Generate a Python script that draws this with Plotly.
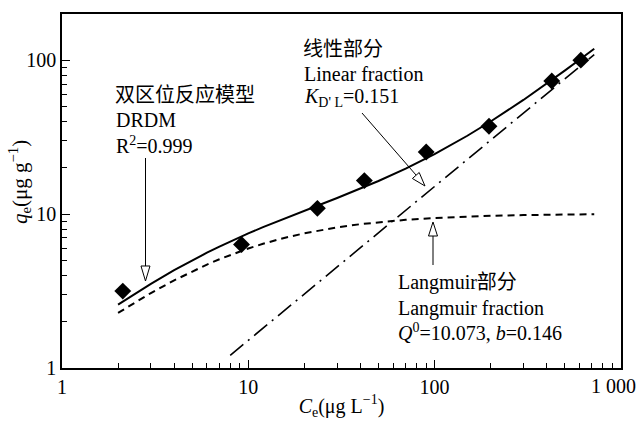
import plotly.graph_objects as go

# Observed data (Ce, qe)
ce_obs = [2.12, 9.2, 23.5, 42.0, 90.2, 196.0, 426.0, 610.0]
qe_obs = [3.16, 6.35, 10.9, 16.5, 25.3, 37.2, 73.3, 100.0]

# Curves
ce_curve = [2, 2.5, 3, 4, 5, 6, 7, 8, 10, 12, 15, 20, 25, 30, 40, 50, 70, 100,
            150, 200, 300, 400, 500, 600, 720]
q_drdm = [2.58, 3.07, 3.52, 4.32, 5.01, 5.61, 6.15, 6.64, 7.49, 8.23, 9.18, 10.52,
          11.68, 12.73, 14.64, 16.41, 19.75, 24.53, 32.28, 39.94, 55.15, 70.30,
          85.44, 100.56, 118.70]
q_langmuir = [2.28, 2.69, 3.07, 3.71, 4.25, 4.70, 5.09, 5.43, 5.98, 6.41, 6.92, 7.50,
              7.91, 8.20, 8.60, 8.86, 9.18, 9.43, 9.63, 9.74, 9.85, 9.90, 9.94, 9.96, 9.98]
ce_linear = [8, 720]
q_linear = [1.21, 108.7]

x_tickvals = [1, 10, 100, 1000]
x_ticktext = ["1", "10", "100", ""]
last_x_label = "1 000"
x_minor = [2, 3, 4, 5, 6, 7, 8, 9, 20, 30, 40, 50, 60, 70, 80, 90,
           200, 300, 400, 500, 600, 700, 800, 900]
y_tickvals = [1, 10, 100]
y_ticktext = ["1", "10", "100"]
y_minor = [2, 3, 4, 5, 6, 7, 8, 9, 20, 30, 40, 50, 60, 70, 80, 90]

X_RANGE = [0, 3.001]
Y_RANGE = [0, 2.3]

W, H = 637, 423
L, R, T, B = 62, 16, 14, 55
PW, PH = W - L - R, H - T - B

def px(x):
    return (x - L) / PW

def py(y):
    return (H - B - y) / PH

SERIF = "Liberation Serif, Times New Roman, Noto Sans CJK SC, serif"

fig = go.Figure()
fig.add_trace(go.Scatter(x=ce_linear, y=q_linear, mode="lines", xaxis="x2", yaxis="y2",
                         line=dict(color="black", width=1.6, dash="17px,6px,2px,6px")))
fig.add_trace(go.Scatter(x=ce_curve, y=q_langmuir, mode="lines",
                         line=dict(color="black", width=2, dash="7px,5px")))
fig.add_trace(go.Scatter(x=ce_curve, y=q_drdm, mode="lines",
                         line=dict(color="black", width=2)))
fig.add_trace(go.Scatter(x=ce_obs, y=qe_obs, mode="markers",
                         marker=dict(symbol="diamond", size=13, color="black")))

shapes = []
def seg(x0, y0, x1, y1, w=1):
    shapes.append(dict(type="line", xref="paper", yref="paper",
                       x0=px(x0), y0=py(y0), x1=px(x1), y1=py(y1),
                       line=dict(color="black", width=w)))

def tri(pts):
    d = "M " + " L ".join(f"{px(a):.5f},{py(b):.5f}" for a, b in pts) + " Z"
    shapes.append(dict(type="path", xref="paper", yref="paper", path=d,
                       fillcolor="white", line=dict(color="black", width=1)))

# arrow 1 (DRDM)
seg(145.5, 158, 145.5, 267)
tri([(141, 266), (150, 266), (145.5, 281)])
# arrow 2 (linear)
seg(362, 113, 416, 175)
tri([(412.4, 178.5), (419.2, 172.5), (425, 186)])
# arrow 3 (Langmuir)
seg(433, 265, 433, 236)
tri([(428.5, 236), (437.5, 236), (433, 222)])

ann = []
def txt(x, y, s, size=20, xanchor="left", angle=0):
    ann.append(dict(xref="paper", yref="paper", x=px(x), y=py(y), text=s,
                    showarrow=False, xanchor=xanchor, yanchor="middle",
                    textangle=angle,
                    font=dict(family=SERIF, size=size, color="black")))

txt(113, 95, "双区位反应模型", 20)
txt(114, 120, "DRDM")
txt(114, 145, "R<sup>2</sup>=0.999")
txt(301, 49, "线性部分", 20)
txt(302, 74, "Linear fraction")
txt(302, 97, "<i>K</i><sub>D' L</sub>=0.151")
txt(396, 282, "Langmuir部分")
txt(396, 308, "Langmuir fraction")
txt(396, 332, "<i>Q</i><sup>0</sup>=10.073, <i>b</i>=0.146")
# last x tick label, pulled inside the page like in the reference
txt(613, 386, last_x_label, 20, xanchor="center")
# y-axis title
txt(20, 182, "<i>q</i><sub>e</sub>(μg g<sup>−1</sup>)", 21, xanchor="center", angle=-90)

fig.update_layout(
    width=W, height=H,
    margin=dict(l=L, r=R, t=T, b=B, autoexpand=False),
    paper_bgcolor="white", plot_bgcolor="white",
    showlegend=False,
    shapes=shapes, annotations=ann,
    font=dict(family=SERIF, size=20, color="black"),
    xaxis=dict(type="log", range=X_RANGE, tickmode="array",
               tickvals=x_tickvals, ticktext=x_ticktext,
               ticks="inside", ticklen=8, tickwidth=1.3, tickcolor="black", showline=True,
               linecolor="black", linewidth=1.5, mirror=True, showgrid=False,
               zeroline=False, tickfont=dict(size=20), automargin=False,
               title=dict(text="<i>C</i><sub>e</sub>(μg L<sup>−1</sup>)", standoff=2,
                          font=dict(size=20))),
    yaxis=dict(type="log", range=Y_RANGE, tickmode="array",
               tickvals=y_tickvals, ticktext=y_ticktext,
               ticks="inside", ticklen=8, tickwidth=1.3, tickcolor="black", showline=True,
               linecolor="black", linewidth=1.5, mirror=True, showgrid=False,
               zeroline=False, tickfont=dict(size=20), automargin=False),
    xaxis2=dict(type="log", range=X_RANGE, overlaying="x", side="bottom",
                tickmode="array", tickvals=x_minor, ticks="inside", ticklen=5,
                tickwidth=1.2, tickcolor="black", showticklabels=False, showgrid=False,
                zeroline=False, showline=False, automargin=False),
    yaxis2=dict(type="log", range=Y_RANGE, overlaying="y", side="left",
                tickmode="array", tickvals=y_minor, ticks="inside", ticklen=5,
                tickwidth=1.2, tickcolor="black", showticklabels=False, showgrid=False,
                zeroline=False, showline=False, automargin=False),
)

fig.write_html("out.html")
